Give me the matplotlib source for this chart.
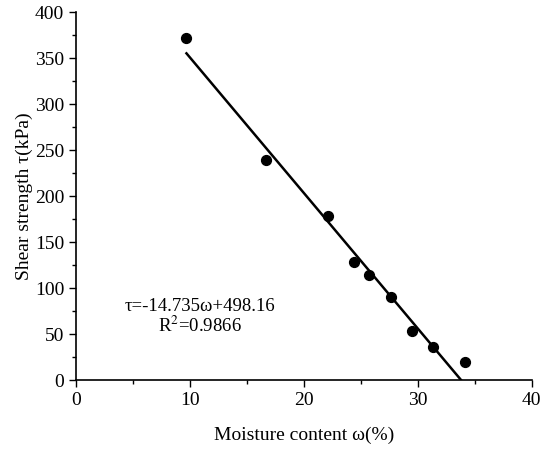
import matplotlib.pyplot as plt
import numpy as np
from matplotlib.ticker import MultipleLocator

plt.rcParams['font.family'] = ['Liberation Serif', 'DejaVu Serif']
plt.rcParams['mathtext.fontset'] = 'stix'

# measured points
moisture = [9.7, 16.7, 22.1, 24.4, 25.7, 27.6, 29.5, 31.3, 34.1]
strength = [372, 239, 179, 129, 114, 91, 53, 36, 20]

# fitted line
slope = -14.735
intercept = 498.16

fig = plt.figure(figsize=(5.5, 4.5), dpi=100)
ax = fig.add_axes([0.138, 0.155, 0.829, 0.818])

ax.scatter(moisture, strength, color='black', s=50, zorder=3)

x_fit = np.array([min(moisture), -intercept / slope])
ax.plot(x_fit, slope * x_fit + intercept, color='black', lw=1.8)

ax.text(10.9, 80, 'τ=-14.735ω+498.16', fontsize=13.5, ha='center', va='center')
ax.text(10.9, 59, 'R$^2$=0.9866', fontsize=13.5, ha='center', va='center')

ax.set_xlim(0, 40)
ax.set_ylim(0, 400)
ax.xaxis.set_major_locator(MultipleLocator(10))
ax.xaxis.set_minor_locator(MultipleLocator(5))
ax.yaxis.set_major_locator(MultipleLocator(50))
ax.yaxis.set_minor_locator(MultipleLocator(25))
ax.tick_params(which='major', direction='out', length=5, width=1, labelsize=14)
ax.tick_params(which='minor', direction='out', length=3, width=1)

ax.spines['top'].set_visible(False)
ax.spines['right'].set_visible(False)
ax.spines['left'].set_linewidth(1.2)
ax.spines['bottom'].set_linewidth(1.2)

ax.set_xlabel('Moisture content ω(%)', fontsize=14, labelpad=13)
ax.set_ylabel('Shear strength τ(kPa)', fontsize=14, labelpad=1)

fig.savefig('out.png', dpi=100)
